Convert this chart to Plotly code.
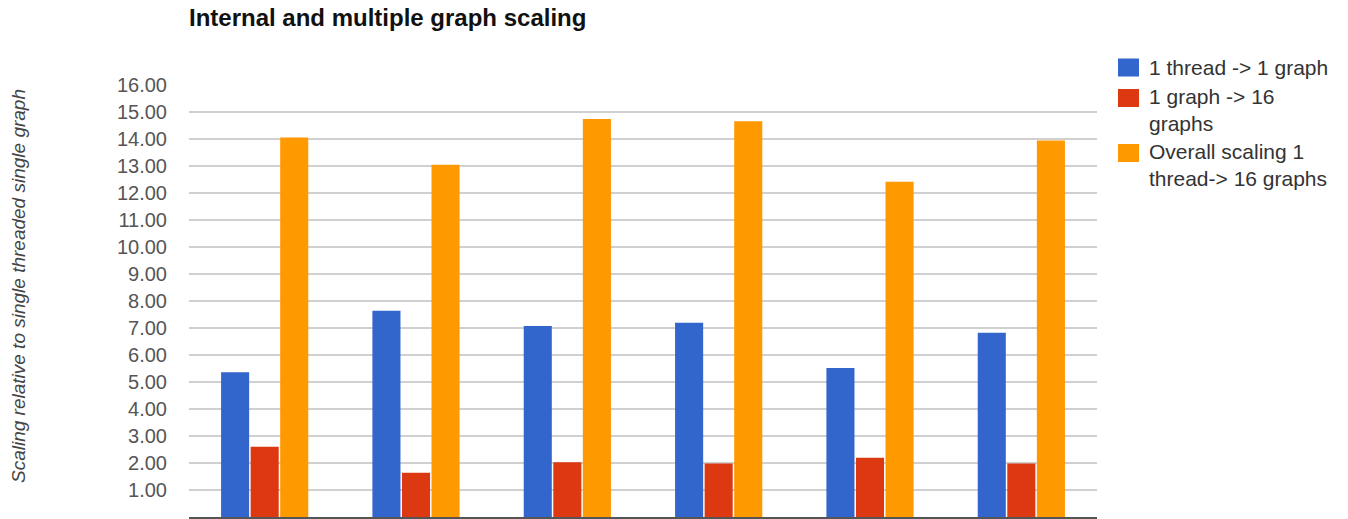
import plotly.graph_objects as go

# Six benchmark configurations (x labels sit below the visible canvas)
categories = ["1", "2", "3", "4", "5", "6"]

series_names = [
    "1 thread -> 1 graph",
    "1 graph -> 16 graphs",
    "Overall scaling 1 thread-> 16 graphs",
]
legend_labels = [
    "1 thread -> 1 graph",
    "1 graph -> 16<br>graphs",
    "Overall scaling 1<br>thread-> 16 graphs",
]
thread_scaling = [5.36, 7.64, 7.07, 7.19, 5.52, 6.82]
graph_scaling = [2.60, 1.64, 2.03, 1.98, 2.19, 1.98]
overall_scaling = [14.06, 13.05, 14.74, 14.66, 12.42, 13.94]

y_ticks = [1, 2, 3, 4, 5, 6, 7, 8, 9, 10, 11, 12, 13, 14, 15, 16]
y_tick_text = [f"{v:.2f}" for v in y_ticks]

colors = ["#3366cc", "#dc3912", "#ff9900"]

W, H = 1348, 519
L, R, T, B = 189, 251, 85, 2
plot_w = W - L - R
plot_h = H - T - B


def px_x(x):
    return (x - L) / plot_w


def px_y(y):
    return (H - B - y) / plot_h


fig = go.Figure()
for name, vals, col in zip(series_names, [thread_scaling, graph_scaling, overall_scaling], colors):
    fig.add_trace(go.Bar(x=categories, y=vals, name=name, marker_color=col,
                         marker_line_width=0, showlegend=False))

font_family = "Liberation Sans, Arial, sans-serif"

fig.update_layout(
    width=W, height=H,
    margin=dict(l=L, r=R, t=T, b=B),
    paper_bgcolor="white", plot_bgcolor="white",
    barmode="group", bargap=0.414, bargroupgap=0.05,
    font=dict(family=font_family, color="#444"),
    title=dict(text="<b>Internal and multiple graph scaling</b>",
               xref="paper", x=0, xanchor="left",
               yref="container", y=1 - 18 / H, yanchor="middle",
               font=dict(size=24, color="#111", family=font_family)),
    xaxis=dict(type="category", showticklabels=False, showgrid=False,
               showline=True, linecolor="#555", linewidth=2, ticks=""),
    yaxis=dict(range=[0, 16], tickvals=y_ticks, ticktext=y_tick_text,
               showgrid=True, gridcolor="#d0d0d0", gridwidth=1.5,
               zeroline=False, ticks="", ticklabelstandoff=21,
               tickfont=dict(size=20, color="#555")),
)

# Rotated value-axis caption
fig.add_annotation(text="<i>Scaling relative to single threaded single graph</i>",
                   xref="paper", yref="paper", x=px_x(18), y=px_y(286),
                   textangle=-90, showarrow=False, xanchor="center", yanchor="middle",
                   font=dict(size=19, color="#444"))

# Legend: colour swatches with labels
swatch_centers = [67.5, 98, 153]
label_centers = [67.7, 110, 165]
for col, lab, sc, lc in zip(colors, legend_labels, swatch_centers, label_centers):
    fig.add_shape(type="rect", xref="paper", yref="paper",
                  x0=px_x(1118), x1=px_x(1139), y0=px_y(sc - 9), y1=px_y(sc + 9),
                  fillcolor=col, line_width=0)
    fig.add_annotation(text=lab, xref="paper", yref="paper",
                       x=px_x(1147), y=px_y(lc), xanchor="left", yanchor="middle",
                       align="left", showarrow=False,
                       font=dict(size=21, color="#333"))

fig.write_html("out.html")
